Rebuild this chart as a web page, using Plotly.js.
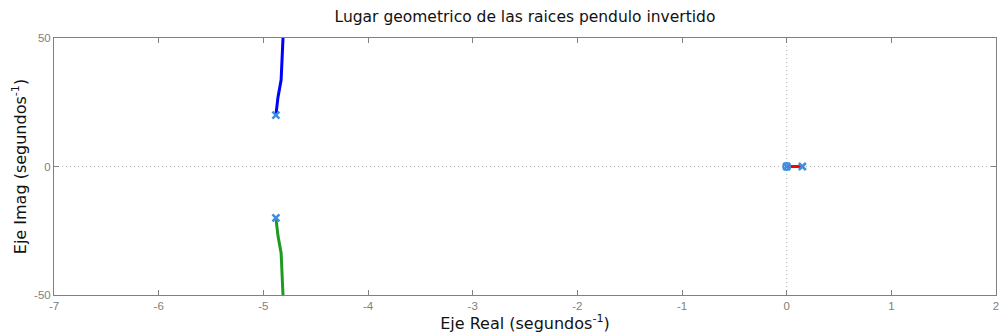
<!DOCTYPE html>
<html>
<head>
<meta charset="utf-8">
<script src="https://cdn.plot.ly/plotly-3.0.1.min.js"></script>
<style>
  html, body { margin: 0; padding: 0; background: #ffffff; }
  #chart { width: 1002px; height: 335px; }
</style>
</head>
<body>
<div id="chart"></div>
<script>
// Root locus branches (real part, imaginary part)
const upperReal = [-4.88, -4.86, -4.83, -4.822, -4.815, -4.812];
const upperImag = [20.0, 27.0, 33.7, 40.3, 46.0, 50.0];
const lowerReal = [-4.88, -4.86, -4.83, -4.822, -4.815, -4.812];
const lowerImag = [-20.0, -27.0, -33.7, -40.3, -46.0, -50.0];
const realBranchReal = [0.15, 0.10, 0.05, 0.0];
const realBranchImag = [0, 0, 0, 0];

// Open-loop poles and zeros
const poleReal = [-4.88, -4.88, 0.15, 0.0];
const poleImag = [20.0, -20.0, 0.0, 0.0];
const zeroReal = [0.0];
const zeroImag = [0.0];

const xTicks = [-7, -6, -5, -4, -3, -2, -1, 0, 1, 2];
const yTicks = [-50, 0, 50];

const markerBlue = '#3d8ee0';

const traces = [
  { x: upperReal, y: upperImag, mode: 'lines', line: { color: '#0000ff', width: 3 }, hoverinfo: 'x+y' },
  { x: lowerReal, y: lowerImag, mode: 'lines', line: { color: '#1f9a1f', width: 3 }, hoverinfo: 'x+y' },
  { x: realBranchReal, y: realBranchImag, mode: 'lines', line: { color: '#ff0000', width: 3 }, hoverinfo: 'x+y' },
  { x: zeroReal, y: zeroImag, mode: 'markers',
    marker: { symbol: 'circle-open', size: 7, color: markerBlue, line: { width: 2, color: markerBlue } } },
  { x: poleReal, y: poleImag, mode: 'markers',
    marker: { symbol: 'x-thin-open', size: 7, color: markerBlue, line: { width: 2.5, color: markerBlue } } }
];

const axisCommon = {
  showgrid: false,
  zeroline: false,
  showline: true,
  linecolor: '#808080',
  linewidth: 1,
  mirror: 'ticks',
  ticks: 'inside',
  ticklen: 5,
  tickcolor: '#808080',
  tickfont: { family: 'Liberation Sans, Arial, sans-serif', size: 11.5, color: '#808080' }
};

const layout = {
  width: 1002,
  height: 335,
  margin: { l: 54, r: 6, t: 38, b: 40 },
  paper_bgcolor: '#ffffff',
  plot_bgcolor: '#ffffff',
  showlegend: false,
  title: {
    text: 'Lugar geometrico de las raices pendulo invertido',
    font: { family: 'DejaVu Sans, sans-serif', size: 15.5, color: '#111111' },
    x: 0.5, xref: 'paper', y: 0.95, yanchor: 'middle'
  },
  xaxis: Object.assign({}, axisCommon, {
    range: [-7, 2],
    tickvals: xTicks,
    ticktext: xTicks.map(String),
    title: { text: 'Eje Real (segundos<sup>-1</sup>)', standoff: 2,
             font: { family: 'DejaVu Sans, sans-serif', size: 16, color: '#111111' } }
  }),
  yaxis: Object.assign({}, axisCommon, {
    range: [-50, 50],
    tickvals: yTicks,
    ticktext: yTicks.map(String),
    title: { text: 'Eje Imag (segundos<sup>-1</sup>)', standoff: 3,
             font: { family: 'DejaVu Sans, sans-serif', size: 16, color: '#111111' } }
  }),
  shapes: [
    { type: 'line', xref: 'x', yref: 'paper', x0: 0, x1: 0, y0: 0, y1: 1,
      line: { color: '#b4b4b4', width: 1, dash: '1px,3px' }, layer: 'below' },
    { type: 'line', xref: 'paper', yref: 'y', x0: 0, x1: 1, y0: 0, y1: 0,
      line: { color: '#b4b4b4', width: 1, dash: '1px,3px' }, layer: 'below' }
  ]
};

Plotly.newPlot('chart', traces, layout, { staticPlot: true, displayModeBar: false });
</script>
</body>
</html>
